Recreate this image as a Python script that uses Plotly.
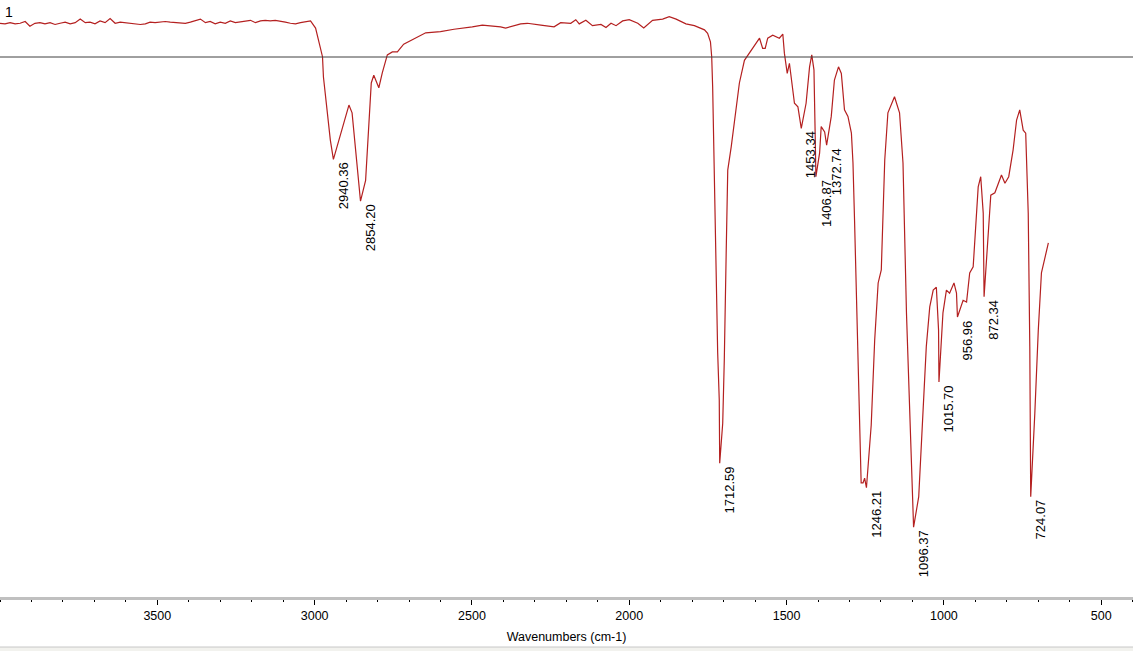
import plotly.graph_objects as go

# Wavenumbers (cm-1) and transmittance (arbitrary %T scale)
wavenumbers = [
    4000, 3984, 3968, 3952, 3936, 3920, 3905, 3889, 3873, 3857, 3841, 3825, 3809, 3793,
    3777, 3761, 3745, 3729, 3714, 3698, 3682, 3666, 3650, 3634, 3618, 3602, 3586, 3570,
    3554, 3538, 3523, 3507, 3491, 3475, 3459, 3443, 3427, 3411, 3395, 3379, 3363, 3347,
    3332, 3316, 3300, 3284, 3268, 3252, 3236, 3220, 3204, 3188, 3172, 3157, 3141, 3125,
    3109, 3093, 3077, 3061, 3045, 3029, 3013,
    2997, 2981, 2975, 2972, 2960, 2950, 2940.36, 2923, 2907, 2891, 2881, 2870, 2860,
    2854.20, 2838, 2828, 2820, 2812, 2796, 2785, 2769, 2753, 2737, 2717, 2685, 2647,
    2600, 2557, 2499, 2467, 2409, 2393, 2345, 2324, 2281, 2239, 2218, 2186, 2170, 2159,
    2138, 2117, 2090, 2074, 2058, 2042, 2021, 2000, 1973, 1954, 1926, 1894, 1873, 1851,
    1820, 1793, 1761, 1751, 1742, 1738, 1735, 1730, 1724, 1719,
    1714, 1712.59, 1703, 1698, 1692, 1687, 1676, 1666, 1650, 1634, 1613, 1597, 1586,
    1576, 1568, 1560, 1544, 1523, 1512, 1507, 1498, 1491, 1485, 1475, 1464, 1453.34,
    1438, 1427, 1420, 1413, 1409, 1406.87, 1395, 1390, 1379, 1372.74, 1358, 1348, 1335,
    1326, 1316, 1305, 1294, 1289, 1284, 1279, 1273, 1268, 1263, 1257, 1252, 1246.21,
    1231, 1220, 1209, 1199, 1188, 1178, 1167, 1157, 1141, 1130, 1119, 1109, 1096.37,
    1080, 1066, 1056, 1045, 1034, 1024, 1017, 1015.70, 1003, 992, 982, 968, 960, 956.96,
    939, 928, 918, 907, 900, 891, 883, 875, 872.34, 859, 851, 838, 828, 817, 806, 794,
    780, 769, 759, 748, 740, 732, 727, 724.07, 711, 700, 690, 679, 668,
]
transmittance = [
    96.1, 96.0, 96.2, 96.0, 96.1, 96.4, 95.6, 96.1, 96.2, 96.0, 96.2, 95.9, 96.1, 96.3,
    96.0, 96.2, 96.8, 96.2, 96.3, 96.0, 96.5, 96.2, 96.9, 96.1, 96.3, 96.2, 96.1, 96.0,
    95.9, 96.0, 96.3, 96.2, 96.3, 96.4, 96.3, 96.2, 96.2, 96.1, 96.3, 96.5, 96.8, 96.2,
    96.4, 96.0, 96.3, 96.1, 96.5, 96.2, 96.3, 96.5, 96.6, 96.2, 96.5, 96.6, 96.5, 96.6,
    96.5, 96.3, 96.1, 96.0, 96.2, 96.3, 96.5,
    95.3, 91.6, 90.5, 87.1, 81.6, 76.5, 73.3, 76.5, 79.9, 82.4, 81.1, 74.9, 68.7,
    66.3, 69.8, 79.9, 86.1, 87.4, 85.3, 87.8, 90.8, 91.3, 91.3, 92.6, 93.5, 94.5,
    94.7, 95.1, 95.5, 95.8, 95.5, 95.3, 96.0, 96.1, 95.8, 95.5, 96.2, 96.1, 96.7, 96.0,
    96.6, 95.7, 95.9, 95.4, 96.1, 95.7, 96.5, 96.7, 96.1, 95.3, 96.6, 96.8, 97.2, 96.8,
    96.0, 95.7, 95.0, 94.4, 93.0, 90.5, 85.5, 70.4, 57.6, 40.9,
    33.0, 22.4, 29.1, 39.7, 57.6, 71.5, 75.4, 79.9, 86.1, 89.9, 91.6, 92.7, 93.6,
    91.9, 91.9, 93.6, 94.1, 93.6, 94.3, 91.1, 87.7, 89.4, 87.2, 82.7, 82.1, 78.5,
    82.7, 88.8, 90.8, 88.3, 77.1, 70.4, 74.4, 78.8, 77.9, 75.7, 80.5, 86.6, 88.8,
    87.7, 81.6, 80.5, 77.7, 72.7, 63.1, 53.1, 40.9, 26.3, 19.1, 19.1, 19.9, 18.3,
    28.8, 43.0, 52.6, 54.8, 73.2, 81.1, 82.6, 83.8, 81.1, 72.7, 47.6, 30.8, 11.7,
    16.8, 30.8, 41.9, 48.6, 51.4, 51.9, 44.7, 36.0, 47.6, 51.4, 50.9, 52.6, 50.9, 46.9,
    49.7, 49.4, 54.3, 55.3, 61.5, 68.7, 70.4, 64.3, 50.3, 61.5, 67.3, 67.7, 69.3, 70.7,
    69.3, 70.4, 74.9, 79.9, 81.6, 78.2, 77.7, 64.3, 41.9, 16.8, 30.8, 44.7, 54.3, 57.0,
    59.3,
]

# Labelled peaks
peak_wavenumbers = [2940.36, 2854.20, 1712.59, 1453.34, 1406.87, 1372.74,
                    1246.21, 1096.37, 1015.70, 956.96, 872.34, 724.07]
peak_labels = ["2940.36", "2854.20", "1712.59", "1453.34", "1406.87", "1372.74",
               "1246.21", "1096.37", "1015.70", "956.96", "872.34", "724.07"]

tick_values = [3500, 3000, 2500, 2000, 1500, 1000, 500]
tick_text = ["3500", "3000", "2500", "2000", "1500", "1000", "500"]

reference_level = 90.45
spectrum_name = "1"

FONT = "Liberation Sans, Arial"

fig = go.Figure()
fig.add_trace(go.Scatter(
    x=wavenumbers, y=transmittance, mode="lines",
    line=dict(color="#b42020", width=1.2), showlegend=False, hoverinfo="x+y",
))

peak_lookup = dict(zip(wavenumbers, transmittance))
for wn, lab in zip(peak_wavenumbers, peak_labels):
    fig.add_annotation(
        x=wn, y=peak_lookup[wn], text=lab, textangle=-90, showarrow=False,
        xanchor="center", yanchor="top", xshift=10, yshift=-1,
        font=dict(family=FONT, size=13, color="black"),
    )

fig.add_shape(type="line", xref="paper", yref="y", x0=0, x1=1,
              y0=reference_level, y1=reference_level,
              line=dict(color="#404040", width=1))

fig.add_annotation(xref="paper", yref="paper", x=0.003, y=0.997, text=spectrum_name,
                   showarrow=False, xanchor="left", yanchor="top",
                   font=dict(family=FONT, size=14, color="black"))

# window bottom border
fig.add_shape(type="rect", xref="paper", yref="paper", x0=0, x1=1,
              y0=-0.095, y1=-0.0838, line=dict(width=0), fillcolor="#f2f2ee", layer="below")
fig.add_shape(type="line", xref="paper", yref="paper", x0=0, x1=1,
              y0=-0.0838, y1=-0.0838, line=dict(color="#c8c8c8", width=1))

fig.update_layout(
    width=1133, height=651,
    margin=dict(l=0, r=0, t=0, b=54),
    paper_bgcolor="white", plot_bgcolor="white",
    font=dict(family=FONT, color="black"),
    xaxis=dict(
        range=[4000, 399], showgrid=False, zeroline=False,
        showline=True, linecolor="#c0c0c0", linewidth=3,
        ticks="outside", ticklen=5, tickwidth=1, tickcolor="black",
        tickvals=tick_values, ticktext=tick_text,
        tickfont=dict(size=12.5, family=FONT),
        minor=dict(dtick=100, ticks="outside", ticklen=2, tickwidth=1, tickcolor="black"),
        title=dict(text="Wavenumbers (cm-1)", standoff=11,
                   font=dict(size=12.5, family=FONT)),
    ),
    yaxis=dict(range=[0, 100], visible=False, fixedrange=True),
)

fig.write_html(
    "out.html",
    config={"displayModeBar": False},
    post_script="document.body.style.margin='0';document.body.style.overflow='hidden';",
)
